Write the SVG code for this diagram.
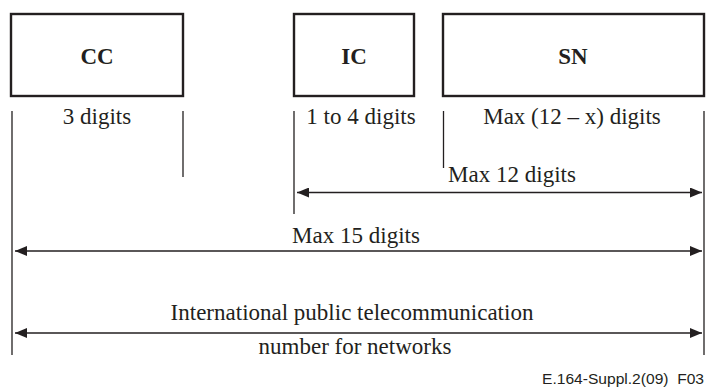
<svg xmlns="http://www.w3.org/2000/svg" width="706" height="387" viewBox="0 0 706 387">
<style>
.box{fill:#fff;stroke:#231f20;stroke-width:2.4}
.t{font-family:"Liberation Serif","Times New Roman",serif;font-size:23px;fill:#231f20;text-anchor:middle}
.b{font-weight:bold;font-size:23px}
.ln{stroke:#231f20;stroke-width:1.3;fill:none}
.foot{font-family:"Liberation Sans",Arial,sans-serif;font-size:14px;fill:#231f20;text-anchor:end}
</style>
<defs>
<marker id="ah" viewBox="0 0 12 10" refX="12" refY="5" markerWidth="12" markerHeight="10" markerUnits="userSpaceOnUse" orient="auto-start-reverse">
<path d="M0,0 L12,5 L0,10 Z" fill="#231f20"/>
</marker>
</defs>
<g id="cc"><rect class="box" x="11" y="14" width="172" height="82"/><text class="t b" x="97" y="64">CC</text></g>
<g id="ic"><rect class="box" x="294" y="14" width="120" height="82"/><text class="t b" x="354" y="64">IC</text></g>
<g id="sn"><rect class="box" x="443" y="14" width="261" height="82"/><text class="t b" x="573" y="64">SN</text></g>
<g id="labels">
<text class="t" x="97" y="124">3 digits</text>
<text class="t" x="361" y="124">1 to 4 digits</text>
<text class="t" x="572" y="124">Max (12 – x) digits</text>
<text class="t" x="512" y="182">Max 12 digits</text>
<text class="t" x="356" y="243">Max 15 digits</text>
<text class="t" x="352" y="320">International public telecommunication</text>
<text class="t" x="355" y="354">number for networks</text>
</g>
<g id="connectors">
<line class="ln" x1="12" y1="111" x2="12" y2="355"/>
<line class="ln" x1="183" y1="111" x2="183" y2="177"/>
<line class="ln" x1="294" y1="111" x2="294" y2="214"/>
<line class="ln" x1="443.5" y1="111" x2="443.5" y2="168"/>
<line class="ln" x1="704" y1="111" x2="704" y2="355"/>
<line class="ln" x1="297" y1="192.5" x2="702" y2="192.5" marker-start="url(#ah)" marker-end="url(#ah)"/>
<line class="ln" x1="15" y1="251" x2="702" y2="251" marker-start="url(#ah)" marker-end="url(#ah)"/>
<line class="ln" x1="15" y1="333" x2="702" y2="333" marker-start="url(#ah)" marker-end="url(#ah)"/>
</g>
<text class="foot" x="704" y="384" textLength="162" lengthAdjust="spacingAndGlyphs">E.164-Suppl.2(09)&#160; F03</text>
</svg>
